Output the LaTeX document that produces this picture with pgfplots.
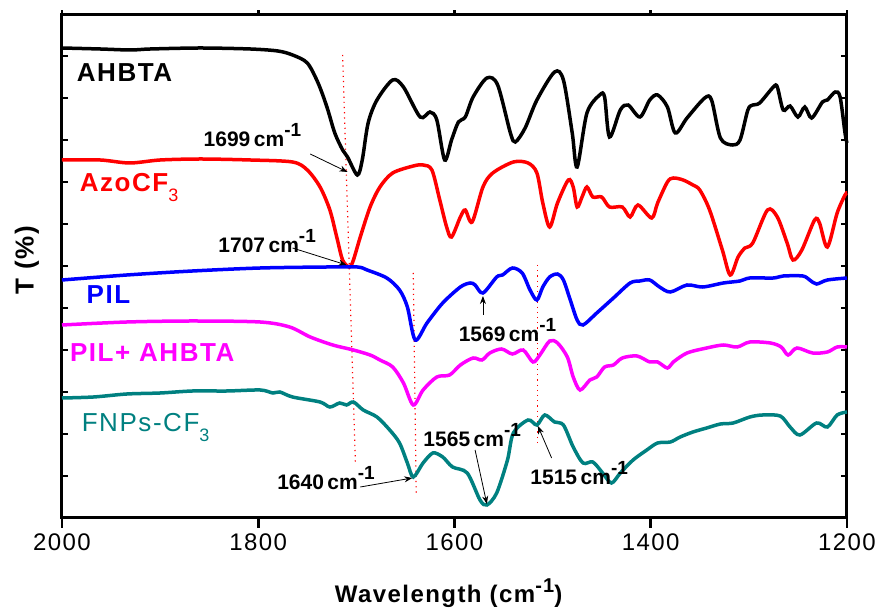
\documentclass[border=0pt]{standalone}
\usepackage{fontspec}
\setmainfont{Liberation Sans}[LetterSpace=6]
\newfontfamily\annfont{Liberation Sans}
\usepackage{pgfplots}
\pgfplotsset{compat=1.18}
\usetikzlibrary{arrows.meta}
\definecolor{fnpteal}{RGB}{0,128,128}
\definecolor{pilmag}{RGB}{255,0,255}

\newcommand{\ann}[1]{{\annfont\fontsize{10.5}{12}\selectfont\bfseries #1\,cm\raisebox{5pt}{\fontsize{9.5}{10}\selectfont -1}}}

\begin{document}
\begin{tikzpicture}
\path[use as bounding box] (-31pt,-46pt) rectangle (408.5pt,259pt);
\begin{axis}[
    at={(0,0)}, anchor=south west,
    scale only axis,
    width=392.5pt, height=251.5pt,
    x dir=reverse,
    xmin=1200, xmax=2000,
    ymin=0, ymax=503,
    xtick={1200,1400,1600,1800,2000},
    ytick=\empty,
    major tick length=0pt,
    xtick pos=lower,
    axis line style={line width=1.5pt},
    /pgf/number format/assume math mode=true,
    /pgf/number format/set thousands separator={},
    xticklabel style={font=\fontsize{12}{14}\selectfont, yshift=-4.5pt},
    clip=false,
]
% dotted guide lines
\addplot[red, dotted, line width=0.6pt] coordinates {(1714,463)(1701,56)};
\addplot[red, dotted, line width=0.6pt] coordinates {(1642,245)(1639,25)};
\addplot[red, dotted, line width=0.6pt] coordinates {(1515,253)(1515,76)};

% AHBTA
\addplot[black, line width=1.75pt, smooth, tension=0.5] coordinates {
(2000,470)(1961,469)(1930,468)(1910,469)(1859,470)(1808,469)(1780,467)(1765,463)
(1750,455)(1739,435)(1730,411)(1722,385)(1714,368)(1709,361)(1699,343)(1694,358)
(1688,395)(1679,418)(1663,438)(1652,431)(1635,401)(1625,406)(1618,398)(1610,358)
(1603,378)(1596,396)(1589,401)(1581,421)(1567,440)(1556,433)(1543,385)(1538,376)
(1528,390)(1516,418)(1498,446)(1489,438)(1480,385)(1475,351)(1465,405)(1452,423)
(1447,421)(1442,381)(1431,408)(1423,413)(1411,401)(1401,418)(1393,423)(1383,411)
(1375,385)(1363,400)(1345,420)(1338,418)(1329,380)(1317,373)(1309,378)(1301,408)
(1296,413)(1289,415)(1275,431)(1271,431)(1265,408)(1258,412)(1250,401)(1243,411)
(1236,400)(1225,416)(1220,418)(1212,426)(1207,421)(1202,385)(1200,375)};

% AzoCF3
\addplot[red, line width=1.75pt, smooth, tension=0.5] coordinates {
(2000,358)(1961,358)(1931,355)(1900,358)(1859,359)(1808,358)(1765,356)(1750,348)
(1737,331)(1727,308)(1720,281)(1714,258)(1707,251)(1703,258)(1696,281)(1686,311)
(1676,331)(1663,345)(1642,352)(1632,353)(1623,348)(1615,318)(1608,291)(1603,281)
(1594,301)(1589,308)(1582,296)(1571,331)(1561,345)(1540,356)(1525,355)(1516,345)
(1510,315)(1503,291)(1495,315)(1484,338)(1479,331)(1475,311)(1470,321)(1465,331)
(1459,321)(1450,321)(1442,311)(1429,311)(1421,301)(1413,313)(1399,300)(1393,315)
(1383,336)(1377,340)(1367,338)(1357,333)(1350,328)(1340,308)(1327,268)(1319,243)
(1311,261)(1304,270)(1296,275)(1281,308)(1271,301)(1261,275)(1255,258)(1246,268)
(1233,298)(1228,295)(1220,271)(1210,305)(1202,323)(1200,325)};

% PIL
\addplot[blue, line width=1.75pt, smooth, tension=0.5] coordinates {
(2000,238)(1934,243)(1867,247)(1798,250)(1730,251)(1699,251)(1689,248)(1669,240)
(1656,228)(1648,211)(1640,178)(1628,195)(1612,215)(1594,231)(1584,235)(1579,233)
(1571,225)(1557,241)(1551,243)(1541,250)(1531,245)(1523,228)(1516,218)(1510,231)
(1503,241)(1495,244)(1489,238)(1482,218)(1475,198)(1469,193)(1455,205)(1438,220)
(1421,235)(1411,237)(1401,238)(1391,231)(1380,226)(1363,233)(1347,231)(1326,235)
(1309,237)(1299,240)(1275,240)(1265,242)(1245,242)(1238,238)(1231,234)(1220,238)
(1200,240)};

% PIL+AHBTA
\addplot[pilmag, line width=1.75pt, smooth, tension=0.5] coordinates {
(2000,193)(1934,196)(1867,197)(1798,196)(1768,191)(1747,181)(1724,173)(1703,168)
(1686,163)(1676,158)(1663,151)(1652,135)(1642,113)(1632,128)(1618,141)(1605,143)
(1594,153)(1581,160)(1572,158)(1564,165)(1552,169)(1541,164)(1530,168)(1520,156)
(1513,163)(1503,177)(1495,175)(1485,161)(1479,141)(1472,128)(1462,138)(1455,141)
(1447,151)(1438,153)(1429,160)(1414,162)(1401,156)(1393,156)(1383,150)(1377,156)
(1363,165)(1343,170)(1326,173)(1312,171)(1299,176)(1278,175)(1267,171)(1260,163)
(1251,170)(1235,165)(1220,166)(1210,171)(1200,171)};

% FNPs-CF3
\addplot[fnpteal, line width=1.75pt, smooth, tension=0.5] coordinates {
(2000,120)(1968,121)(1934,124)(1900,125)(1867,127)(1832,127)(1798,128)(1785,125)
(1778,126)(1765,121)(1737,116)(1727,111)(1717,115)(1710,113)(1703,116)(1693,108)
(1679,101)(1666,88)(1656,75)(1648,55)(1642,41)(1632,55)(1622,65)(1612,61)
(1602,51)(1587,45)(1574,18)(1567,13)(1557,25)(1546,58)(1540,85)(1525,98)
(1516,93)(1508,103)(1498,96)(1489,93)(1479,71)(1469,55)(1459,56)(1449,45)
(1440,35)(1431,45)(1418,58)(1404,68)(1393,75)(1380,76)(1370,81)(1357,86)
(1343,90)(1329,94)(1316,95)(1299,101)(1286,103)(1268,102)(1258,91)(1248,83)
(1231,95)(1220,91)(1210,103)(1200,106)};

% curve names
\node[anchor=base west, font=\fontsize{13}{15}\selectfont\bfseries] at (axis cs:1992,436) {AHBTA};
\node[anchor=base west, red, font=\fontsize{13}{15}\selectfont\bfseries] at (axis cs:1989,326) {AzoCF\raisebox{-5pt}{\fontsize{9}{10}\selectfont\mdseries 3}};
\node[anchor=base west, blue, font=\fontsize{13}{15}\selectfont\bfseries] at (axis cs:1982,214) {PIL};
\node[anchor=base west, pilmag, font=\fontsize{13}{15}\selectfont\bfseries] at (axis cs:1999,156) {PIL+ AHBTA};
\node[anchor=base west, fnpteal, font=\fontsize{13}{15}\selectfont] at (axis cs:1987,86) {FNPs-CF\raisebox{-5pt}{\fontsize{9}{10}\selectfont 3}};

% peak annotations
\node[anchor=base west, inner sep=0pt] at (axis cs:1856,371) {\ann{1699}};
\draw[-{Stealth[length=4pt,width=3pt]}, line width=0.4pt] (axis cs:1747,364) -- (axis cs:1709,346);
\node[anchor=base west, inner sep=0pt] at (axis cs:1841,265) {\ann{1707}};
\draw[-{Stealth[length=4pt,width=3pt]}, line width=0.4pt] (axis cs:1765,270) -- (axis cs:1710,253);
\node[anchor=base west, inner sep=0pt] at (axis cs:1596,176) {\ann{1569}};
\draw[-{Stealth[length=4pt,width=3pt]}, line width=0.4pt] (axis cs:1571,203) -- (axis cs:1571,222);
\node[anchor=base west, inner sep=0pt] at (axis cs:1781,28) {\ann{1640}};
\draw[-{Stealth[length=4pt,width=3pt]}, line width=0.4pt] (axis cs:1696,31) -- (axis cs:1643,40);
\node[anchor=base west, inner sep=0pt] at (axis cs:1632,71) {\ann{1565}};
\draw[-{Stealth[length=4pt,width=3pt]}, line width=0.4pt] (axis cs:1579,68) -- (axis cs:1567,14);
\node[anchor=base west, inner sep=0pt] at (axis cs:1523,33) {\ann{1515}};
\draw[-{Stealth[length=4pt,width=3pt]}, line width=0.4pt] (axis cs:1501,60) -- (axis cs:1515,92);

% axis titles
\node[rotate=90, font=\fontsize{13}{15}\selectfont\bfseries] at (axis cs:2035.7,258) {T (\%)};
\node[anchor=base, font=\fontsize{12}{14}\selectfont\bfseries] at (axis cs:1606,-85) {Wavelength (cm\raisebox{5pt}{\fontsize{10}{11}\selectfont -1})};
\end{axis}
% tick marks on the frame (axis box spans 0..392.5pt by 0..251.5pt)
\foreach \t in {0,98.125,196.25,294.375,392.5} {
  \draw[line width=1.3pt] (\t pt,0pt) -- (\t pt,-5pt);
  \draw[line width=1.3pt] (\t pt,251.5pt) -- (\t pt,254pt);
}
\foreach \t in {21,42,63,84,105,126,147,168,189,210,231} {
  \draw[line width=1.1pt] (0pt,\t pt) -- (3pt,\t pt);
  \draw[line width=1.1pt] (392.5pt,\t pt) -- (389.5pt,\t pt);
}
\end{tikzpicture}
\end{document}
